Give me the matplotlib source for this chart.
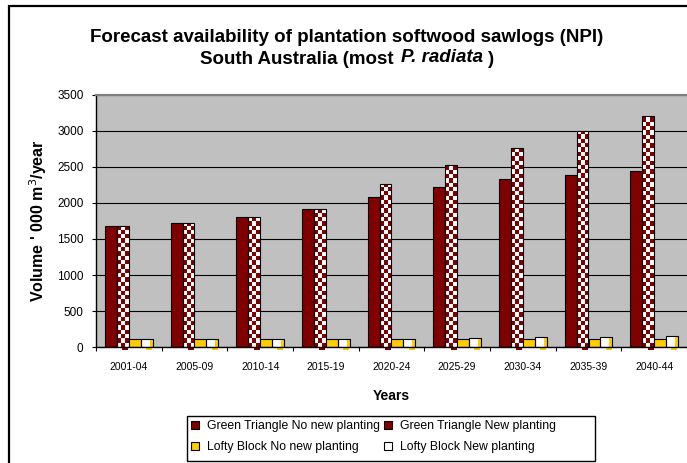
import numpy as np
import matplotlib
matplotlib.use("Agg")
import matplotlib.pyplot as plt
from matplotlib.colors import ListedColormap
from matplotlib.patches import Rectangle

plt.rcParams["font.family"] = ["Liberation Sans", "DejaVu Sans"]

# ── Data ─────────────────────────────────────────────────────────────────
periods = ["2001-04", "2005-09", "2010-14", "2015-19", "2020-24",
           "2025-29", "2030-34", "2035-39", "2040-44"]
gt_no_new = [1685, 1718, 1800, 1912, 2079, 2218, 2329, 2384, 2440]
gt_new = [1685, 1718, 1800, 1912, 2269, 2523, 2769, 3000, 3213]
lofty_no_new = [105, 105, 105, 105, 105, 105, 105, 105, 105]
lofty_new = [105, 105, 105, 105, 105, 130, 138, 140, 157]

yticks = [0, 500, 1000, 1500, 2000, 2500, 3000, 3500]

DARK_RED = "#800000"
YELLOW = "#FFCC00"
PLOT_BG = "#C0C0C0"
BAR_W = 0.182
CELL = 60          # checker cell height, data units
TITLE_FS = 13.5


def fill_bars(ax, bars, arr, colors, rows_per=None):
    """Paint a small pattern image inside each bar, clipped to it."""
    cmap = ListedColormap(colors)
    for b in bars:
        x, w, h = b.get_x(), b.get_width(), b.get_height()
        if rows_per:
            n = max(1, int(np.ceil(h / rows_per)))
            img = np.indices((n, arr.shape[1])).sum(axis=0) % 2
            top = n * rows_per
        else:
            img = arr
            top = h
        im = ax.imshow(img, cmap=cmap, vmin=0, vmax=1, origin="upper",
                       extent=(x, x + w, 0, top), aspect="auto",
                       interpolation="nearest", zorder=2)
        im.set_clip_path(b)


def depth_stubs(ax, bars, color):
    """Small Excel-style depth shadow poking out below the axis."""
    for b in bars:
        x, w = b.get_x(), b.get_width()
        ax.add_patch(Rectangle((x + w * 0.45, -40), w * 0.5, 40,
                               facecolor=color, edgecolor="none",
                               clip_on=False, zorder=1))


fig = plt.figure(figsize=(6.87, 4.63), dpi=100)
ax = fig.add_axes([96 / 687, 1 - 347 / 463, 591 / 687, 252 / 463])
ax.set_facecolor(PLOT_BG)

x = np.arange(len(periods))
b1 = ax.bar(x - 1.5 * BAR_W, gt_no_new, BAR_W, color=DARK_RED,
            edgecolor="black", linewidth=0.8, zorder=3)
b2 = ax.bar(x - 0.5 * BAR_W, gt_new, BAR_W, facecolor="none",
            edgecolor="black", linewidth=0.8, zorder=3)
b3 = ax.bar(x + 0.5 * BAR_W, lofty_no_new, BAR_W, color=YELLOW,
            edgecolor="black", linewidth=0.8, zorder=3)
b4 = ax.bar(x + 1.5 * BAR_W, lofty_new, BAR_W, facecolor="none",
            edgecolor="black", linewidth=0.8, zorder=3)

# checkerboard for GT new planting, white/yellow shading for Lofty new
fill_bars(ax, b2, np.zeros((1, 3)), ["white", DARK_RED], rows_per=CELL)
fill_bars(ax, b4, np.array([[0, 0, 0, 1]]), ["white", YELLOW])
depth_stubs(ax, b2, DARK_RED)
depth_stubs(ax, b4, YELLOW)

ax.set_xlim(-0.5, len(periods) - 0.5)
ax.set_ylim(0, 3500)

# grid + spines
ax.set_yticks(yticks)
ax.yaxis.grid(True, color="black", linewidth=0.8)
ax.set_axisbelow(True)
ax.spines["right"].set_visible(False)
ax.spines["top"].set_color("#808080")
ax.spines["top"].set_linewidth(1.6)
ax.spines["left"].set_linewidth(1.0)
ax.spines["bottom"].set_linewidth(1.0)
ax.spines["bottom"].set_zorder(4)

ax.tick_params(axis="y", direction="out", length=3, width=0.8,
               labelsize=8.5, pad=6)
ax.set_xticks(x)
ax.set_xticklabels(periods)
ax.set_xticks(np.arange(-0.5, len(periods)), minor=True)
ax.tick_params(axis="x", which="major", length=0, labelsize=7.5, pad=11)
ax.tick_params(axis="x", which="minor", direction="out", length=3,
               width=0.8)

ax.set_ylabel("Volume ' 000 m$^3$/year", fontsize=11.5, fontweight="bold",
              labelpad=6)
ax.set_xlabel("Years", fontsize=10, fontweight="bold", labelpad=12)

# title (two lines, species name italic and slightly raised)
fig.text(0.505, 1 - 37 / 463,
         "Forecast availability of plantation softwood sawlogs (NPI)",
         ha="center", va="center", fontsize=TITLE_FS, fontweight="bold")

renderer = fig.canvas.get_renderer()
pieces = [("South Australia (most", "normal", 0),
          ("P. radiata", "italic", 3),
          (")", "normal", 0)]
texts = []
for s, style, dy in pieces:
    t = fig.text(0, 1 - 60 / 463 + dy / 463, s, ha="left",
                 va="center", fontsize=TITLE_FS, fontweight="bold",
                 fontstyle=style)
    texts.append(t)
widths = [t.get_window_extent(renderer).width for t in texts]
gaps = [7, 5]
total = sum(widths) + sum(gaps)
x0 = 0.505 * 687 - total / 2
for i, (t, w) in enumerate(zip(texts, widths)):
    t.set_x(x0 / 687)
    x0 += w + (gaps[i] if i < len(gaps) else 0)

# legend with proxy handles, frame drawn separately (Excel-style padding)
h1 = Rectangle((0, 0), 1, 1, facecolor=DARK_RED, edgecolor="black", lw=0.8)
h2 = Rectangle((0, 0), 1, 1, facecolor=DARK_RED, edgecolor="black", lw=0.8)
h3 = Rectangle((0, 0), 1, 1, facecolor=YELLOW, edgecolor="black", lw=0.8)
h4 = Rectangle((0, 0), 1, 1, facecolor="white", edgecolor="black", lw=0.8)
leg = fig.legend([h1, h3, h2, h4],
                 ["Green Triangle No new planting",
                  "Lofty Block No new planting",
                  "Green Triangle New planting",
                  "Lofty Block New planting"],
                 ncol=2, loc="upper left",
                 bbox_to_anchor=(187 / 687, 1 - 416 / 463),
                 fontsize=8.8, frameon=False,
                 handlelength=0.65, handleheight=0.55, handletextpad=0.6,
                 columnspacing=0.4, labelspacing=0.75, borderpad=0.35,
                 borderaxespad=0)
fig.patches.append(Rectangle((187 / 687, 1 - 461 / 463), 408 / 687,
                             45 / 463, transform=fig.transFigure,
                             fill=False, edgecolor="black", linewidth=1.0))

# outer chart frame (left and top edges visible)
fig.patches.append(Rectangle((9 / 687, -0.1), 2, 1.1 - 6 / 463,
                             transform=fig.transFigure, fill=False,
                             edgecolor="black", linewidth=1.6))

fig.savefig("out.png", dpi=100)
